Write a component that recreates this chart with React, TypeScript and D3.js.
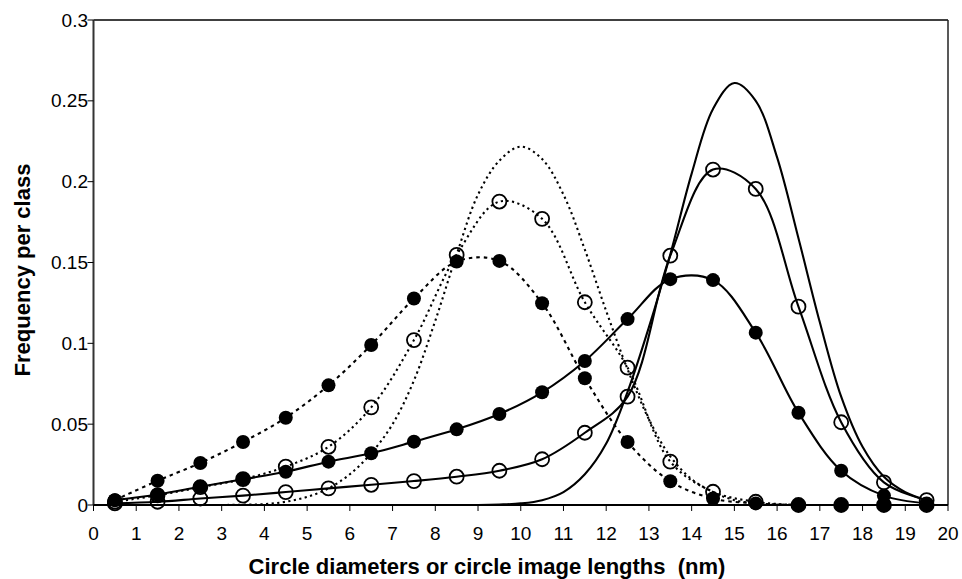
import React from "react";
import * as d3 from "d3";

// Class mid-points (nm)
const classMid = [0.5, 1.5, 2.5, 3.5, 4.5, 5.5, 6.5, 7.5, 8.5, 9.5, 10.5, 11.5, 12.5, 13.5, 14.5, 15.5, 16.5, 17.5, 18.5, 19.5];

// Measured series (markers)
const dottedFilled = [0.003, 0.015, 0.026, 0.039, 0.054, 0.074, 0.099, 0.1277, 0.1506, 0.151, 0.1248, 0.0784, 0.039, 0.0147, 0.004, 0.001, 0, 0, 0, 0];
const dottedOpen = [0.002, 0.006, 0.011, 0.016, 0.0237, 0.036, 0.0604, 0.102, 0.1547, 0.1877, 0.177, 0.1254, 0.085, 0.0268, 0.0082, 0.002, 0, 0, 0, 0];
const solidFilled = [0.003, 0.0065, 0.0113, 0.0159, 0.0206, 0.0268, 0.032, 0.0392, 0.0468, 0.0563, 0.0697, 0.0891, 0.115, 0.1397, 0.1391, 0.1066, 0.0571, 0.0212, 0.0058, 0.001];
const solidOpen = [0.001, 0.002, 0.004, 0.0058, 0.008, 0.0103, 0.0125, 0.0148, 0.0175, 0.0212, 0.0283, 0.0447, 0.067, 0.1542, 0.2075, 0.1955, 0.1227, 0.0512, 0.014, 0.003];

// Model curves (no markers)
const curveX = [0.5, 1, 1.5, 2, 2.5, 3, 3.5, 4, 4.5, 5, 5.5, 6, 6.5, 7, 7.5, 8, 8.5, 9, 9.5, 10, 10.5, 11, 11.5, 12, 12.5, 13, 13.5, 14, 14.5, 15, 15.5, 16, 16.5, 17, 17.5, 18, 18.5, 19, 19.5];
const dottedModel = [0, 0, 0, 0, 0, 0, 0.0002, 0.0005, 0.002, 0.005, 0.0103, 0.019, 0.032, 0.05, 0.077, 0.114, 0.155, 0.192, 0.213, 0.2217, 0.214, 0.192, 0.158, 0.12, 0.084, 0.053, 0.03, 0.016, 0.008, 0.003, 0.001, 0.0003, 0, 0, 0, 0, 0, 0, 0];
const solidModel = [0, 0, 0, 0, 0, 0, 0, 0, 0, 0, 0, 0, 0, 0, 0, 0, 0, 0, 0.0003, 0.001, 0.003, 0.008, 0.019, 0.038, 0.07, 0.11, 0.155, 0.205, 0.245, 0.261, 0.25, 0.215, 0.165, 0.113, 0.067, 0.036, 0.0175, 0.008, 0.003];

// Axis ticks
const xTicks = [0, 1, 2, 3, 4, 5, 6, 7, 8, 9, 10, 11, 12, 13, 14, 15, 16, 17, 18, 19, 20];
const yTicks = [0, 0.05, 0.1, 0.15, 0.2, 0.25, 0.3];
const yTickLabels = ["0", "0.05", "0.1", "0.15", "0.2", "0.25", "0.3"];

const W = 962;
const H = 579;
const L = 93.5, R = 948, T = 20, B = 505;
const FONT = "'Liberation Sans', Arial, Helvetica, sans-serif";

export default function App() {
  const x = d3.scaleLinear().domain([0, 20]).range([L, R]);
  const y = d3.scaleLinear().domain([0, 0.3]).range([B, T]);
  const line = d3
    .line<[number, number]>()
    .x((d) => x(d[0]))
    .y((d) => y(d[1]))
    .curve(d3.curveCatmullRom.alpha(0.5));

  const zip = (xs: number[], ys: number[]) => xs.map((v, i) => [v, ys[i]] as [number, number]);

  const lines = [
    { d: zip(curveX, dottedModel), dash: "2.2,3.4" },
    { d: zip(classMid, dottedOpen), dash: "2.2,3.4" },
    { d: zip(classMid, dottedFilled), dash: "3.5,4" },
    { d: zip(curveX, solidModel), dash: undefined },
    { d: zip(classMid, solidOpen), dash: undefined },
    { d: zip(classMid, solidFilled), dash: undefined },
  ];

  return (
    <svg width={W} height={H} style={{ position: "absolute", left: 0, top: 0, background: "#fff" }} fontFamily={FONT}>
      <defs>
        <clipPath id="plotClip">
          <rect x={L} y={T - 5} width={R - L} height={B - T + 5} />
        </clipPath>
      </defs>
      <rect x={0} y={0} width={W} height={H} fill="#fff" />

      {/* frame */}
      <line x1={L} y1={T} x2={R} y2={T} stroke="#000" strokeWidth={1.5} />
      <line x1={R} y1={T} x2={R} y2={B} stroke="#222" strokeWidth={1.5} />

      {/* lines */}
      <g clipPath="url(#plotClip)">
        {lines.map((l, i) => (
          <path key={i} d={line(l.d) || ""} fill="none" stroke="#000" strokeWidth={2.1} strokeDasharray={l.dash} />
        ))}
      </g>

      {/* axes */}
      <line x1={L} y1={T} x2={L} y2={B} stroke="#333" strokeWidth={2} />
      <line x1={L} y1={B} x2={R} y2={B} stroke="#000" strokeWidth={2} />
      {xTicks.map((t) => (
        <g key={"xt" + t}>
          <line x1={x(t)} y1={B} x2={x(t)} y2={B + 6} stroke="#000" strokeWidth={1} />
          <text x={x(t)} y={540} textAnchor="middle" fontSize={19} fill="#000">
            {t}
          </text>
        </g>
      ))}
      {yTicks.map((t, i) => (
        <g key={"yt" + i}>
          <line x1={L - 6} y1={y(t)} x2={L} y2={y(t)} stroke="#000" strokeWidth={1} />
          <text x={88} y={y(t) + 6.5} textAnchor="end" fontSize={19} fill="#000">
            {yTickLabels[i]}
          </text>
        </g>
      ))}

      {/* markers */}
      {classMid.map((m, i) => (
        <circle key={"so" + i} cx={x(m)} cy={y(solidOpen[i])} r={7} fill="none" stroke="#000" strokeWidth={1.8} />
      ))}
      {classMid.map((m, i) => (
        <circle key={"do" + i} cx={x(m)} cy={y(dottedOpen[i])} r={7} fill="none" stroke="#000" strokeWidth={1.8} />
      ))}
      {classMid.map((m, i) => (
        <circle key={"sf" + i} cx={x(m)} cy={y(solidFilled[i])} r={7} fill="#000" />
      ))}
      {classMid.map((m, i) => (
        <circle key={"df" + i} cx={x(m)} cy={y(dottedFilled[i])} r={7} fill="#000" />
      ))}

      {/* titles */}
      <text x={487} y={574} textAnchor="middle" fontSize={22} fontWeight="bold" fill="#000" style={{ whiteSpace: "pre" }}>
        {"Circle diameters or circle image lengths  (nm)"}
      </text>
      <text transform="translate(30,270) rotate(-90)" textAnchor="middle" fontSize={22} fontWeight="bold" fill="#000">
        Frequency per class
      </text>
    </svg>
  );
}
